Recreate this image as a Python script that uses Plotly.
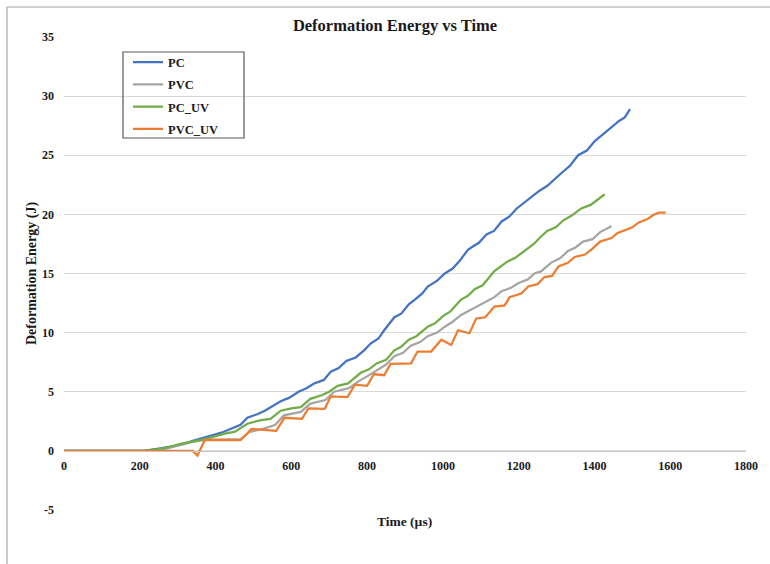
import plotly.graph_objects as go

# ---------------- data ----------------
pc_t = [0, 210, 250, 280, 307, 340, 370, 395, 420, 445, 466, 484, 510, 530, 550, 572, 595, 619, 640, 660,
        686, 704, 725, 745, 770, 792, 810, 830, 845, 872, 890, 910, 930, 945, 960, 985, 1005, 1025, 1045,
        1066, 1080, 1095, 1115, 1135, 1155, 1175, 1195, 1215, 1235, 1255, 1275, 1295, 1313, 1335, 1357,
        1380, 1401, 1420, 1445, 1465, 1480, 1494]
pc_e = [0, 0, 0.2, 0.35, 0.5, 0.85, 1.1, 1.35, 1.6, 1.9, 2.2, 2.8, 3.1, 3.4, 3.8, 4.2, 4.5, 5.0, 5.3, 5.7,
        6.0, 6.7, 7.0, 7.6, 7.9, 8.5, 9.1, 9.5, 10.2, 11.3, 11.6, 12.4, 12.9, 13.3, 13.9, 14.4, 15.0, 15.4,
        16.1, 17.0, 17.3, 17.6, 18.3, 18.6, 19.4, 19.8, 20.5, 21.0, 21.5, 22.0, 22.4, 23.0, 23.5, 24.1, 25.0,
        25.4, 26.2, 26.7, 27.4, 27.9, 28.2, 28.9]

pvc_t = [0, 220, 260, 307, 340, 372, 400, 466, 490, 530, 558, 580, 625, 650, 690, 713, 752, 778, 800, 825,
         850, 872, 895, 915, 940, 960, 985, 1005, 1025, 1048, 1065, 1090, 1110, 1136, 1155, 1180, 1200, 1224,
         1242, 1260, 1285, 1310, 1330, 1350, 1370, 1395, 1415, 1430, 1445]
pvc_e = [0, 0, 0.1, 0.5, 0.75, 0.93, 0.95, 1.0, 1.6, 1.9, 2.2, 3.0, 3.3, 4.0, 4.3, 5.0, 5.3, 5.9, 6.3, 6.8,
         7.3, 8.0, 8.3, 8.9, 9.2, 9.7, 10.0, 10.5, 10.9, 11.5, 11.8, 12.2, 12.6, 13.0, 13.5, 13.8, 14.2, 14.5,
         15.0, 15.2, 15.9, 16.3, 16.9, 17.2, 17.7, 17.9, 18.5, 18.75, 19.0]

pcuv_t = [0, 210, 250, 280, 307, 340, 372, 395, 430, 450, 484, 520, 545, 572, 600, 625, 650, 680, 700, 722,
          750, 783, 805, 825, 850, 872, 890, 910, 930, 960, 980, 1000, 1020, 1048, 1065, 1085, 1105, 1136,
          1150, 1170, 1190, 1224, 1240, 1255, 1275, 1298, 1318, 1340, 1365, 1390, 1410, 1427]
pcuv_e = [0, 0, 0.15, 0.35, 0.6, 0.8, 1.0, 1.2, 1.5, 1.6, 2.3, 2.6, 2.7, 3.4, 3.6, 3.7, 4.4, 4.7, 5.0, 5.5,
          5.7, 6.6, 6.9, 7.4, 7.7, 8.5, 8.8, 9.4, 9.7, 10.5, 10.8, 11.4, 11.8, 12.8, 13.1, 13.7, 14.0, 15.2,
          15.5, 16.0, 16.3, 17.1, 17.5, 18.0, 18.6, 18.9, 19.5, 19.9, 20.5, 20.8, 21.3, 21.7]

pvcuv_t = [0, 340, 352, 372, 466, 495, 560, 582, 628, 645, 688, 704, 748, 768, 800, 818, 845, 862, 916, 933,
           969, 996, 1022, 1040, 1070, 1088, 1112, 1136, 1163, 1176, 1207, 1225, 1250, 1268, 1288,
           1305, 1330, 1348, 1375, 1395, 1415, 1445, 1460, 1476, 1500, 1516, 1540, 1555, 1570, 1588]
pvcuv_e = [0, 0, -0.4, 0.93, 0.9, 1.85, 1.7, 2.8, 2.7, 3.6, 3.55, 4.6, 4.55, 5.6, 5.5, 6.5, 6.4, 7.35, 7.4, 8.4,
           8.4, 9.4, 8.96, 10.2, 9.95, 11.2, 11.3, 12.2, 12.3, 13.0, 13.3, 13.9, 14.1, 14.7, 14.8,
           15.6, 15.9, 16.4, 16.6, 17.1, 17.7, 18.0, 18.4, 18.6, 18.9, 19.3, 19.6, 19.95, 20.15, 20.15]

series_names = ["PC", "PVC", "PC_UV", "PVC_UV"]
series_colors = ["#4472C4", "#A5A5A5", "#70AD47", "#ED7D31"]
x_ticks = [0, 200, 400, 600, 800, 1000, 1200, 1400, 1600, 1800]
y_ticks = [-5, 0, 5, 10, 15, 20, 25, 30, 35]

# ---------------- layout geometry ----------------
W, H = 770, 564
L, R, T, B = 64, 746, 37, 510          # plot area in pixels


def px(xp):
    return (xp - L) / (R - L)


def py(yp):
    return (B - yp) / (B - T)


FONT = "Liberation Serif"
INK = "#1a1a1a"

fig = go.Figure()
for t, e, n, c in zip([pc_t, pvc_t, pcuv_t, pvcuv_t], [pc_e, pvc_e, pcuv_e, pvcuv_e],
                      series_names, series_colors):
    fig.add_trace(go.Scatter(x=t, y=e, mode="lines", name=n, legendgroup=n,
                             line=dict(color=c, width=2.25)))

fig.update_layout(
    width=W, height=H,
    margin=dict(l=L, r=W - R, t=T, b=H - B, pad=0),
    paper_bgcolor="white", plot_bgcolor="white",
    font=dict(family=FONT, size=12, color=INK),
    title=dict(text="<b>Deformation Energy vs Time</b>", x=395 / W, y=1 - 25 / H,
               xanchor="center", yanchor="middle", font=dict(family=FONT, size=16.5, color=INK)),
    showlegend=True,
    legend=dict(x=px(128), y=py(47.5), xanchor="left", yanchor="top",
                bgcolor="rgba(0,0,0,0)", borderwidth=0, tracegroupgap=3,
                font=dict(family=FONT, size=12.5, color=INK, weight="bold"),
                itemwidth=30),
    xaxis=dict(range=[0, 1800], tickvals=x_ticks, ticktext=[str(v) for v in x_ticks],
               showgrid=False, zeroline=False, showline=True, linecolor="#c8c8c8", linewidth=1,
               anchor="free", position=5 / 40, ticks="", ticklabelstandoff=4,
               tickfont=dict(family=FONT, size=12, color=INK, weight="bold")),
    yaxis=dict(range=[-5, 35], tickvals=y_ticks, ticktext=[str(v) for v in y_ticks],
               showgrid=True, gridcolor="#d9d9d9", gridwidth=1, zeroline=False, showline=False,
               ticks="", ticklabelstandoff=9,
               tickfont=dict(family=FONT, size=12, color=INK, weight="bold")),
    annotations=[
        dict(text="<b>Time (µs)</b>", x=px(404), y=py(521), xref="paper", yref="paper",
             showarrow=False, xanchor="center", yanchor="middle",
             font=dict(family=FONT, size=13.5, color=INK)),
        dict(text="<b>Deformation Energy (J)</b>", x=px(32), y=py(274), xref="paper", yref="paper",
             showarrow=False, xanchor="center", yanchor="middle", textangle=-90,
             font=dict(family=FONT, size=14, color=INK)),
    ],
    shapes=[
        dict(type="line", xref="paper", yref="paper", x0=px(7), x1=px(7), y0=py(7), y1=py(H + 2),
             line=dict(color="#a6a6a6", width=1.2)),
        dict(type="line", xref="paper", yref="paper", x0=px(7), x1=px(W + 2), y0=py(7), y1=py(7),
             line=dict(color="#a6a6a6", width=1.2)),
        dict(type="rect", xref="paper", yref="paper", x0=px(123), x1=px(244), y0=py(52), y1=py(138),
             line=dict(color="#595959", width=1.2), fillcolor="rgba(0,0,0,0)"),
    ],
)

fig.write_html("out.html")
